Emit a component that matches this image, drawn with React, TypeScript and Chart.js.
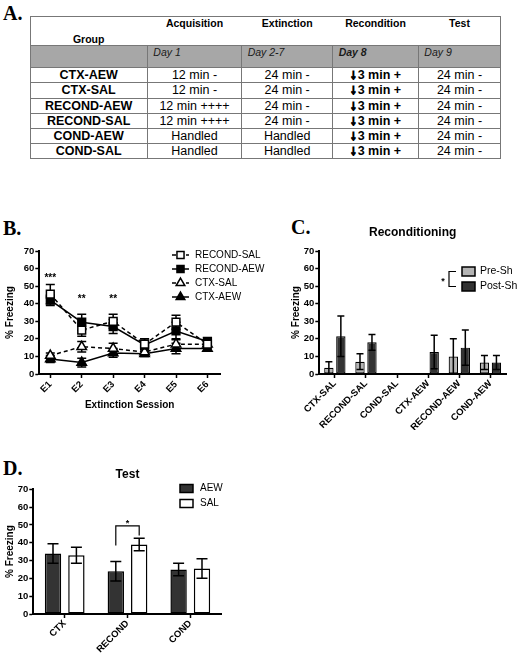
import React, { useEffect, useRef } from "react";
import { Chart, registerables } from "chart.js";

Chart.register(...registerables);

const FONT = "'Liberation Sans', Arial, Helvetica, sans-serif";
const SERIF = "'Liberation Serif', 'Times New Roman', serif";

// ===== Panel A: protocol table =====
const stageNames = ["Acquisition", "Extinction", "Recondition", "Test"];
const stageDays = ["Day 1", "Day 2-7", "Day 8", "Day 9"];
const groupNames = ["CTX-AEW", "CTX-SAL", "RECOND-AEW", "RECOND-SAL", "COND-AEW", "COND-SAL"];
const acquisitionCells = ["12 min -", "12 min -", "12 min ++++", "12 min ++++", "Handled", "Handled"];
const extinctionCells = ["24 min -", "24 min -", "24 min -", "24 min -", "Handled", "Handled"];
const reconditionCells = ["3 min +", "3 min +", "3 min +", "3 min +", "3 min +", "3 min +"];
const testCells = ["24 min -", "24 min -", "24 min -", "24 min -", "24 min -", "24 min -"];

// ===== Panel B: extinction sessions =====
const sessionLabels = ["E1", "E2", "E3", "E4", "E5", "E6"];
const reconSalMean = [45.5, 25, 30, 17, 29.5, 17];
const reconSalSem = [5.5, 3.5, 4, 3, 4, 2];
const reconAewMean = [42, 29.5, 27, 16.5, 24.5, 18.5];
const reconAewSem = [3, 4.5, 4, 3.5, 5, 2];
const ctxSalMean = [10.5, 15.5, 14.5, 12.5, 17, 17];
const ctxSalSem = [1.5, 3, 3, 1.5, 3, 1.5];
const ctxAewMean = [8.5, 6.5, 12, 11.5, 14.5, 14.5];
const ctxAewSem = [2, 2.5, 2.5, 1.5, 3, 1.5];
const sessionStars = ["***", "**", "**", "", "", ""];
const sessionStarLevel = [56, 44, 44, 0, 0, 0];

// ===== Panel C: reconditioning =====
const condGroups = ["CTX-SAL", "RECOND-SAL", "COND-SAL", "CTX-AEW", "RECOND-AEW", "COND-AEW"];
const preShMean = [3.5, 7, 0, 0, 10, 6.5];
const preShSem = [3.5, 4.5, 0, 0, 10, 4];
const postShMean = [21.5, 18, 0, 12.5, 15, 6.5];
const postShSem = [11.5, 4.5, 0, 9.5, 10, 4];

// ===== Panel D: test =====
const testGroups = ["CTX", "RECOND", "COND"];
const testAewMean = [34, 24, 25];
const testAewSem = [5.5, 5.5, 3.5];
const testSalMean = [33, 39, 25.5];
const testSalSem = [4.5, 3.5, 5.5];
const testSigGroup = 1;
const testSigBracket = [38.5, 49.5, 44];
const testSigLabel = "*";

type Box = { x: number; y: number; w: number; h: number };
type Area = { l: number; t: number; r: number; b: number };

const boxB: Box = { x: 0, y: 215, w: 280, h: 205 };
const areaB: Area = { l: 39.3, t: 251, r: 220, b: 374 };
const boxC: Box = { x: 270, y: 215, w: 250, h: 215 };
const areaC: Area = { l: 319.3, t: 251, r: 506, b: 374 };
const boxD: Box = { x: 0, y: 450, w: 300, h: 207 };
const areaD: Area = { l: 33.3, t: 489.3, r: 221.7, b: 614 };

function tickFont(size = 9.5) {
  return { family: FONT, size, weight: "bold" as const };
}

function pad(box: Box, area: Area) {
  return { left: 0, top: area.t - box.y, right: box.x + box.w - area.r, bottom: 0 };
}

function yScale(box: Box, area: Area, titleCenterX: number) {
  const size = 10;
  const lh = size * 1.2;
  return {
    type: "linear",
    min: 0,
    max: 70,
    afterFit: (s: any) => {
      s.width = area.l - box.x;
    },
    ticks: { stepSize: 10, font: tickFont(9.5), color: "#000", padding: 1 },
    grid: { display: true, drawOnChartArea: false, drawTicks: true, tickLength: 4, tickWidth: 1.5, tickColor: "#000" },
    border: { display: true, color: "#000", width: 2 },
    title: {
      display: true,
      text: "% Freezing",
      color: "#000",
      font: { family: FONT, size, weight: "bold" },
      padding: { top: titleCenterX - box.x - lh / 2, bottom: 0 },
    },
  };
}

function xGrid() {
  return { display: true, drawOnChartArea: false, drawTicks: true, offset: false, tickLength: 4, tickWidth: 1.5, tickColor: "#000" };
}

function errBar(ctx: CanvasRenderingContext2D, x: number, yHi: number, yLo: number, cap: number, lw: number) {
  ctx.save();
  ctx.strokeStyle = "#000";
  ctx.lineWidth = lw;
  ctx.setLineDash([]);
  ctx.beginPath();
  ctx.moveTo(x, yHi);
  ctx.lineTo(x, yLo);
  ctx.moveTo(x - cap / 2, yHi);
  ctx.lineTo(x + cap / 2, yHi);
  ctx.moveTo(x - cap / 2, yLo);
  ctx.lineTo(x + cap / 2, yLo);
  ctx.stroke();
  ctx.restore();
}

function label(ctx: CanvasRenderingContext2D, s: string, x: number, y: number, font: string, align: CanvasTextAlign = "center") {
  ctx.save();
  ctx.fillStyle = "#000";
  ctx.font = font;
  ctx.textAlign = align;
  ctx.textBaseline = "middle";
  ctx.fillText(s, x, y);
  ctx.restore();
}

function starText(ctx: CanvasRenderingContext2D, s: string, x: number, y: number, size: number) {
  ctx.save();
  ctx.fillStyle = "#000";
  ctx.font = `bold ${size}px ${FONT}`;
  ctx.textAlign = "center";
  ctx.textBaseline = "alphabetic";
  ctx.fillText(s, x, y + size * 0.56);
  ctx.restore();
}

function drawMarker(ctx: CanvasRenderingContext2D, style: string, x: number, y: number, r: number, fill: string) {
  ctx.save();
  ctx.setLineDash([]);
  ctx.beginPath();
  if (style === "rect") {
    const s = r * Math.SQRT1_2;
    ctx.rect(x - s, y - s, 2 * s, 2 * s);
  } else {
    let a = 0;
    const step = (2 * Math.PI) / 3;
    ctx.moveTo(x + Math.sin(a) * r, y - Math.cos(a) * r);
    a += step;
    ctx.lineTo(x + Math.sin(a) * r, y - Math.cos(a) * r);
    a += step;
    ctx.lineTo(x + Math.sin(a) * r, y - Math.cos(a) * r);
    ctx.closePath();
  }
  ctx.fillStyle = fill;
  ctx.fill();
  ctx.strokeStyle = "#000";
  ctx.lineWidth = 1.5;
  ctx.stroke();
  ctx.restore();
}

function buildB(): any {
  const box = boxB, area = areaB;
  const series = [
    { label: "RECOND-SAL", mean: reconSalMean, sem: reconSalSem, style: "rect", filled: false, dashed: true },
    { label: "RECOND-AEW", mean: reconAewMean, sem: reconAewSem, style: "rect", filled: true, dashed: false },
    { label: "CTX-SAL", mean: ctxSalMean, sem: ctxSalSem, style: "triangle", filled: false, dashed: true },
    { label: "CTX-AEW", mean: ctxAewMean, sem: ctxAewSem, style: "triangle", filled: true, dashed: false },
  ];
  const datasets = series.map((s) => ({
    label: s.label,
    data: s.mean.map((v, i) => ({ x: i, y: v })),
    errors: s.sem,
    borderColor: "#000",
    borderWidth: 1.5,
    borderDash: s.dashed ? [4, 3] : [],
    pointStyle: s.style,
    pointRadius: 5.5,
    pointBackgroundColor: s.filled ? "#000" : "#fff",
    pointBorderColor: "#000",
    pointBorderWidth: 1.5,
    fill: false,
    tension: 0,
  }));
  const plugin = {
    id: "panelB",
    beforeDatasetsDraw(chart: any) {
      const ctx = chart.ctx;
      const ys = chart.scales.y;
      chart.data.datasets.forEach((ds: any, di: number) => {
        const meta = chart.getDatasetMeta(di);
        meta.data.forEach((pt: any, j: number) => {
          const v = ds.data[j].y;
          const e = ds.errors[j];
          errBar(ctx, pt.x, ys.getPixelForValue(v + e), ys.getPixelForValue(v - e), 9, 1.5);
        });
      });
    },
    afterDraw(chart: any) {
      const ctx = chart.ctx;
      const xs = chart.scales.x;
      const ys = chart.scales.y;
      sessionStars.forEach((s, i) => {
        if (!s) return;
        starText(ctx, s, xs.getPixelForValue(i), ys.getPixelForValue(sessionStarLevel[i]), 10);
      });
      chart.data.datasets.forEach((ds: any, i: number) => {
        const cy = 255 - box.y + i * 14;
        ctx.save();
        ctx.strokeStyle = "#000";
        ctx.lineWidth = 1.5;
        ctx.setLineDash(ds.borderDash);
        ctx.beginPath();
        ctx.moveTo(172 - box.x, cy);
        ctx.lineTo(189 - box.x, cy);
        ctx.stroke();
        ctx.restore();
        drawMarker(ctx, ds.pointStyle, 180.5 - box.x, cy, 5, ds.pointBackgroundColor);
        label(ctx, ds.label, 195 - box.x, cy, `10px ${FONT}`, "left");
      });
    },
  };
  return {
    type: "line",
    data: { datasets },
    options: {
      responsive: false,
      animation: false,
      devicePixelRatio: 1,
      layout: { padding: pad(box, area) },
      plugins: { legend: { display: false }, tooltip: { enabled: false } },
      scales: {
        x: {
          type: "linear",
          min: -0.35,
          max: 5.4,
          afterBuildTicks: (s: any) => {
            s.ticks = sessionLabels.map((_, i) => ({ value: i }));
          },
          afterFit: (s: any) => {
            s.height = box.y + box.h - area.b;
          },
          ticks: {
            callback: (v: any) => sessionLabels[v],
            font: tickFont(9.5),
            color: "#000",
            minRotation: 45,
            maxRotation: 45,
            autoSkip: false,
            padding: 1,
          },
          grid: xGrid(),
          border: { display: true, color: "#000", width: 2 },
          title: {
            display: true,
            text: "Extinction Session",
            color: "#000",
            font: { family: FONT, size: 10, weight: "bold" },
            padding: { top: 0, bottom: 9 },
          },
        },
        y: yScale(box, area, 10),
      },
    },
    plugins: [plugin],
  };
}

function barErrors(chart: any, cap: number) {
  const ctx = chart.ctx;
  const ys = chart.scales.y;
  chart.data.datasets.forEach((ds: any, di: number) => {
    const meta = chart.getDatasetMeta(di);
    meta.data.forEach((bar: any, j: number) => {
      const v = ds.data[j];
      const e = ds.errors[j];
      if (!e) return;
      errBar(ctx, bar.x, ys.getPixelForValue(v + e), ys.getPixelForValue(Math.max(v - e, 0)), cap, 1.5);
    });
  });
}

function xCategory(box: Box, area: Area) {
  return {
    type: "category",
    offset: true,
    afterFit: (s: any) => {
      s.height = box.y + box.h - area.b;
    },
    ticks: { font: tickFont(9.5), color: "#000", minRotation: 45, maxRotation: 45, autoSkip: false, padding: 0 },
    grid: xGrid(),
    border: { display: true, color: "#000", width: 2 },
  };
}

function buildC(): any {
  const box = boxC, area = areaC;
  const plugin = {
    id: "panelC",
    afterDatasetsDraw(chart: any) {
      barErrors(chart, 7);
    },
    afterDraw(chart: any) {
      const ctx = chart.ctx;
      const ca = chart.chartArea;
      label(ctx, "Reconditioning", (ca.left + ca.right) / 2, ca.top - 18.5, `bold 12px ${FONT}`);
      chart.data.datasets.forEach((ds: any, i: number) => {
        const cy = 271.5 - box.y + i * 15;
        ctx.save();
        ctx.fillStyle = ds.backgroundColor;
        ctx.fillRect(462 - box.x, cy - 4.5, 13, 9);
        ctx.strokeStyle = "#000";
        ctx.lineWidth = 1.5;
        ctx.strokeRect(462 - box.x, cy - 4.5, 13, 9);
        ctx.restore();
        label(ctx, ds.label, 480 - box.x, cy, `10.5px ${FONT}`, "left");
      });
      ctx.save();
      ctx.strokeStyle = "#000";
      ctx.lineWidth = 1.2;
      ctx.beginPath();
      ctx.moveTo(456 - box.x, 271.5 - box.y);
      ctx.lineTo(449 - box.x, 271.5 - box.y);
      ctx.lineTo(449 - box.x, 286.5 - box.y);
      ctx.lineTo(456 - box.x, 286.5 - box.y);
      ctx.stroke();
      ctx.restore();
      starText(ctx, "*", 443 - box.x, 279 - box.y, 9);
    },
  };
  return {
    type: "bar",
    data: {
      labels: condGroups,
      datasets: [
        { label: "Pre-Sh", data: preShMean, errors: preShSem, backgroundColor: "#b4b4b4", borderColor: "#000", borderWidth: 1.2, borderSkipped: false, categoryPercentage: 0.77, barPercentage: 0.78 },
        { label: "Post-Sh", data: postShMean, errors: postShSem, backgroundColor: "#333333", borderColor: "#000", borderWidth: 1.2, borderSkipped: false, categoryPercentage: 0.77, barPercentage: 0.78 },
      ],
    },
    options: {
      responsive: false,
      animation: false,
      devicePixelRatio: 1,
      layout: { padding: pad(box, area) },
      plugins: { legend: { display: false }, tooltip: { enabled: false } },
      scales: { x: xCategory(box, area), y: yScale(box, area, 296.7) },
    },
    plugins: [plugin],
  };
}

function buildD(): any {
  const box = boxD, area = areaD;
  const plugin = {
    id: "panelD",
    afterDatasetsDraw(chart: any) {
      barErrors(chart, 11);
      const ctx = chart.ctx;
      const ys = chart.scales.y;
      const x1 = chart.getDatasetMeta(0).data[testSigGroup].x;
      const x2 = chart.getDatasetMeta(1).data[testSigGroup].x;
      ctx.save();
      ctx.strokeStyle = "#000";
      ctx.lineWidth = 1.2;
      ctx.beginPath();
      ctx.moveTo(x1, ys.getPixelForValue(testSigBracket[0]));
      ctx.lineTo(x1, ys.getPixelForValue(testSigBracket[1]));
      ctx.lineTo(x2, ys.getPixelForValue(testSigBracket[1]));
      ctx.lineTo(x2, ys.getPixelForValue(testSigBracket[2]));
      ctx.stroke();
      ctx.restore();
      starText(ctx, testSigLabel, (x1 + x2) / 2, ys.getPixelForValue(testSigBracket[1]) - 5, 9);
    },
    afterDraw(chart: any) {
      const ctx = chart.ctx;
      const ca = chart.chartArea;
      label(ctx, "Test", (ca.left + ca.right) / 2, ca.top - 14.3, `bold 12px ${FONT}`);
      chart.data.datasets.forEach((ds: any, i: number) => {
        const cy = 488.5 - box.y + i * 15;
        ctx.save();
        ctx.fillStyle = ds.backgroundColor;
        ctx.fillRect(180 - box.x, cy - 4, 13, 8);
        ctx.strokeStyle = "#000";
        ctx.lineWidth = 1.5;
        ctx.strokeRect(180 - box.x, cy - 4, 13, 8);
        ctx.restore();
        label(ctx, ds.label, 200 - box.x, cy, `10px ${FONT}`, "left");
      });
    },
  };
  return {
    type: "bar",
    data: {
      labels: testGroups,
      datasets: [
        { label: "AEW", data: testAewMean, errors: testAewSem, backgroundColor: "#333333", borderColor: "#000", borderWidth: 1.5, borderSkipped: false, categoryPercentage: 0.745, barPercentage: 0.7 },
        { label: "SAL", data: testSalMean, errors: testSalSem, backgroundColor: "#ffffff", borderColor: "#000", borderWidth: 1.5, borderSkipped: false, categoryPercentage: 0.745, barPercentage: 0.7 },
      ],
    },
    options: {
      responsive: false,
      animation: false,
      devicePixelRatio: 1,
      layout: { padding: pad(box, area) },
      plugins: { legend: { display: false }, tooltip: { enabled: false } },
      scales: { x: xCategory(box, area), y: yScale(box, area, 10) },
    },
    plugins: [plugin],
  };
}

function ChartCanvas({ box, build }: { box: Box; build: () => any }) {
  const ref = useRef<HTMLCanvasElement>(null);
  useEffect(() => {
    const chart = new Chart(ref.current as HTMLCanvasElement, build());
    return () => chart.destroy();
  }, []);
  return (
    <canvas
      ref={ref}
      width={box.w}
      height={box.h}
      style={{ position: "absolute", left: box.x, top: box.y, width: box.w, height: box.h }}
    />
  );
}

function TextAt({ cx, cy, children, style, align }: any) {
  const w = 160;
  const left = align === "left" ? cx : cx - w / 2;
  return (
    <div
      style={{
        position: "absolute",
        left,
        width: w,
        top: cy - 8,
        height: 16,
        lineHeight: "16px",
        textAlign: align === "left" ? "left" : "center",
        whiteSpace: "nowrap",
        color: "#000",
        ...style,
      }}
    >
      {children}
    </div>
  );
}

function TablePanel() {
  const colX = [30, 147.3, 241.7, 332.7, 418.3, 500.7];
  const top = 15.7, headB = 45, grayB = 67.7, bottom = 158.7;
  const rowH = (bottom - grayB) / groupNames.length;
  const lineC = "#777";
  const width = colX[5] - colX[0];
  const els: any[] = [];
  els.push(
    <div key="gray" style={{ position: "absolute", left: colX[0], top: headB, width, height: grayB - headB, background: "#a7a7a7" }} />
  );
  els.push(
    <div key="outer" style={{ position: "absolute", left: colX[0], top, width, height: bottom - top, border: `1px solid ${lineC}`, boxSizing: "border-box" }} />
  );
  [headB, grayB].forEach((y, i) =>
    els.push(<div key={"hh" + i} style={{ position: "absolute", left: colX[0], top: y - 0.5, width, height: 1, background: lineC }} />)
  );
  for (let k = 1; k < groupNames.length; k++) {
    els.push(<div key={"h" + k} style={{ position: "absolute", left: colX[0], top: grayB + k * rowH - 0.5, width, height: 1, background: lineC }} />);
  }
  colX.slice(1, 5).forEach((x, i) =>
    els.push(<div key={"v" + i} style={{ position: "absolute", left: x - 0.5, top: headB, width: 1, height: bottom - headB, background: lineC }} />)
  );
  const cx = (i: number) => (colX[i] + colX[i + 1]) / 2;
  const headFont = { fontFamily: FONT, fontSize: 10.5, fontWeight: "bold" };
  els.push(<TextAt key="grp" cx={cx(0)} cy={38.5} style={headFont}>Group</TextAt>);
  stageNames.forEach((s, i) =>
    els.push(<TextAt key={"st" + i} cx={cx(i + 1)} cy={23} style={headFont}>{s}</TextAt>)
  );
  stageDays.forEach((s, i) =>
    els.push(
      <TextAt key={"d" + i} cx={colX[i + 1] + 6} cy={51.5} align="left" style={{ fontFamily: FONT, fontSize: 10.5, fontStyle: "italic", fontWeight: i === 2 ? "bold" : "normal", color: "#1a1a1a" }}>
        {s}
      </TextAt>
    )
  );
  const cellFont = { fontFamily: FONT, fontSize: 12.5 };
  groupNames.forEach((g, r) => {
    const cy = grayB + rowH * (r + 0.5);
    els.push(<TextAt key={"g" + r} cx={cx(0)} cy={cy} style={{ ...cellFont, fontWeight: "bold" }}>{g}</TextAt>);
    els.push(<TextAt key={"a" + r} cx={cx(1)} cy={cy} style={cellFont}>{acquisitionCells[r]}</TextAt>);
    els.push(<TextAt key={"e" + r} cx={cx(2)} cy={cy} style={cellFont}>{extinctionCells[r]}</TextAt>);
    els.push(
      <TextAt key={"r" + r} cx={cx(3)} cy={cy} style={{ ...cellFont, fontWeight: "bold" }}>
        <span style={{ WebkitTextStroke: "1.4px #000", fontSize: 13.5, marginRight: 1 }}>↓</span>
        {reconditionCells[r]}
      </TextAt>
    );
    els.push(<TextAt key={"t" + r} cx={cx(4)} cy={cy} style={cellFont}>{testCells[r]}</TextAt>);
  });
  return <>{els}</>;
}

function PanelLetter({ text, x, base }: { text: string; x: number; base: number }) {
  return (
    <div
      style={{
        position: "absolute",
        left: x,
        top: base - 16.75,
        height: 20,
        lineHeight: "20px",
        fontFamily: SERIF,
        fontWeight: "bold",
        fontSize: 20,
        color: "#000",
        whiteSpace: "nowrap",
      }}
    >
      {text}
    </div>
  );
}

export default function App() {
  useEffect(() => {
    document.body.style.margin = "0";
  }, []);
  return (
    <div style={{ position: "absolute", left: 0, top: 0, width: 520, height: 657, background: "#fff", overflow: "hidden" }}>
      <PanelLetter text="A." x={3} base={19.5} />
      <TablePanel />
      <PanelLetter text="B." x={3} base={235} />
      <PanelLetter text="C." x={291} base={233.5} />
      <PanelLetter text="D." x={3} base={475} />
      <ChartCanvas box={boxB} build={buildB} />
      <ChartCanvas box={boxC} build={buildC} />
      <ChartCanvas box={boxD} build={buildD} />
    </div>
  );
}
